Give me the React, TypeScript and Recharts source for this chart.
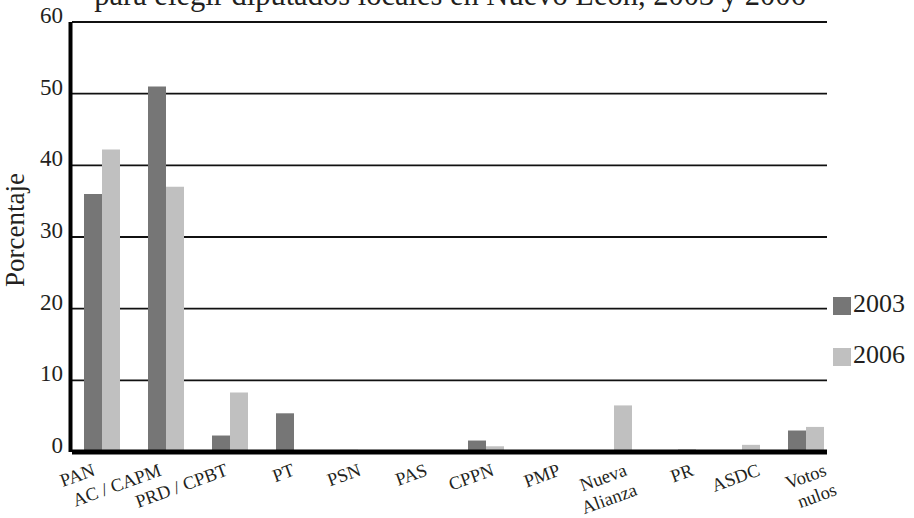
import React from 'react';
import { BarChart, Bar, XAxis, YAxis, CartesianGrid, ReferenceLine } from 'recharts';

const categories = [
  'PAN',
  'AC / CAPM',
  'PRD / CPBT',
  'PT',
  'PSN',
  'PAS',
  'CPPN',
  'PMP',
  'Nueva Alianza',
  'PR',
  'ASDC',
  'Votos nulos',
];
const votes2003 = [36.0, 51.0, 2.3, 5.4, 0.3, 0.2, 1.6, 0, 0, 0, 0, 3.0];
const votes2006 = [42.2, 37.0, 8.3, 0, 0, 0, 0.8, 0, 6.5, 0.4, 1.0, 3.5];
const yTicks = [0, 10, 20, 30, 40, 50, 60];
const title = 'para elegir diputados locales en Nuevo León, 2003 y 2006';

const series = [
  { key: 'y2003', name: '2003', color: '#767676' },
  { key: 'y2006', name: '2006', color: '#c0c0c0' },
];

const data = categories.map((name, i) => ({
  name,
  y2003: votes2003[i],
  y2006: votes2006[i],
}));

const SERIF = '"Liberation Serif", "Times New Roman", serif';
const INK = '#231f20';

// party names with a slash stay on one line, the others wrap at the space
function XTick({ x, y, payload, index }: any) {
  const label: string = payload.value;
  const lines = label.includes('/') ? [label] : label.split(' ');
  const ax = x - 6 + index * 2.5;
  const ay = y + 23;
  return (
    <g transform={`translate(${ax},${ay}) rotate(-20)`}>
      {lines.map((line, i) => (
        <text
          key={i}
          x={i * 3}
          y={i * 22}
          textAnchor="end"
          fontFamily={SERIF}
          fontSize={18.5}
          fill={INK}
        >
          {line}
        </text>
      ))}
    </g>
  );
}

function YTick({ x, y, payload }: any) {
  return (
    <text x={x} y={y + 1} textAnchor="end" fontFamily={SERIF} fontSize={23} fill={INK}>
      {payload.value}
    </text>
  );
}

function YLabel({ viewBox }: any) {
  const cx = 24;
  const cy = viewBox.y + viewBox.height / 2 - 7;
  return (
    <text
      x={cx}
      y={cy}
      transform={`rotate(-90, ${cx}, ${cy})`}
      textAnchor="middle"
      fontFamily={SERIF}
      fontSize={27}
      fill={INK}
    >
      Porcentaje
    </text>
  );
}

export default function App() {
  return (
    <div style={{ position: 'absolute', left: 0, top: 0, width: 914, height: 518, background: '#fff' }}>
      <div
        style={{
          position: 'absolute',
          left: 0,
          width: 900,
          top: -20,
          textAlign: 'center',
          fontFamily: SERIF,
          fontSize: 30.5,
          lineHeight: '31px',
          color: INK,
          whiteSpace: 'nowrap',
        }}
      >
        {title}
      </div>
      <BarChart
        width={914}
        height={518}
        data={data}
        margin={{ top: 22, right: 87, bottom: 36, left: 0 }}
        barCategoryGap={14}
        barGap={0}
      >
        <CartesianGrid vertical={false} stroke="#111" strokeWidth={1.8} />
        {series.map((s) => (
          <Bar key={s.key} dataKey={s.key} name={s.name} fill={s.color} isAnimationActive={false} />
        ))}
        <XAxis
          dataKey="name"
          interval={0}
          height={30}
          padding={{ left: -2, right: -11 }}
          axisLine={false}
          tickLine={false}
          tickSize={0}
          tickMargin={0}
          tick={<XTick />}
        />
        <YAxis
          width={72}
          domain={[0, 60]}
          ticks={yTicks}
          interval={0}
          axisLine={false}
          tickLine={false}
          tickSize={6}
          tickMargin={3}
          tick={<YTick />}
          label={<YLabel />}
        />
        {/* heavy axis frame: left spine and the zero baseline */}
        <CartesianGrid horizontal={false} verticalPoints={[70.5]} stroke="#000" strokeWidth={4} />
        <ReferenceLine y={0} stroke="#000" strokeWidth={5} ifOverflow="visible" />
      </BarChart>
      <div style={{ position: 'absolute', left: 833, top: 297 }}>
        {series.map((s) => (
          <div key={s.key} style={{ position: 'relative', height: 51 }}>
            <div style={{ position: 'absolute', left: 0, top: 0, width: 18, height: 18, background: s.color }} />
            <div
              style={{
                position: 'absolute',
                left: 20,
                top: -6,
                fontFamily: SERIF,
                fontSize: 26,
                lineHeight: '26px',
                color: INK,
              }}
            >
              {s.name}
            </div>
          </div>
        ))}
      </div>
    </div>
  );
}
